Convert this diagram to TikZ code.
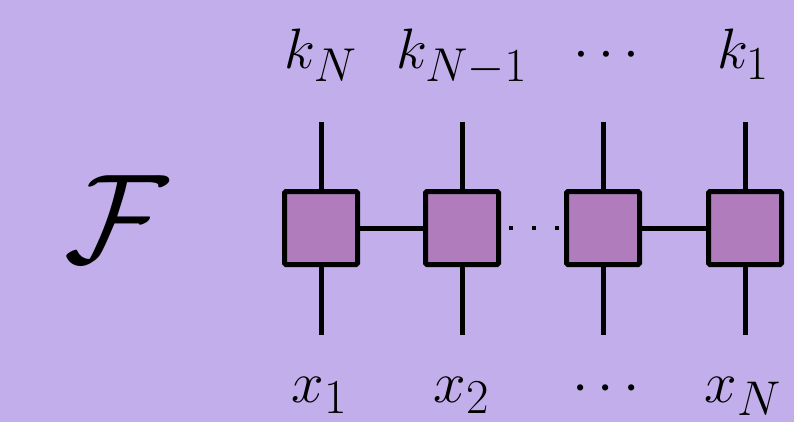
\documentclass[tikz,border=0pt]{standalone}
\usepackage{amsmath}
\usepackage{graphicx}
\definecolor{bgc}{HTML}{C1AEEA}
\definecolor{boxc}{HTML}{B07CBB}
\newcommand{\biglab}[2]{\scalebox{#1}{\fontsize{24.88}{30}\selectfont #2}}
\begin{document}
\begin{tikzpicture}[x=1pt,y=-1pt,
  tbox/.style={draw=black,fill=boxc,line width=5pt,minimum size=73pt,inner sep=0pt,rounded corners=1.5pt},
  leg/.style={line width=5pt},
  lab/.style={anchor=base,inner sep=0pt}]
\fill[bgc] (0,0) rectangle (794,422);
\useasboundingbox (0,0) rectangle (794,422);
\node[inner sep=0pt] (F) at (116,219) {\biglab{5.1}{$\mathcal{F}$}};
\foreach \i/\x in {1/321,2/462,3/603,4/745}{
  \node[tbox] (b\i) at (\x,228) {};
  \coordinate (t\i) at (\x,122);
  \coordinate (u\i) at (\x,335);
  \draw[leg] (b\i.north) -- (t\i);
  \draw[leg] (b\i.south) -- (u\i);
}
\draw[leg] (b1.east) -- (b2.west);
\draw[leg] (b3.east) -- (b4.west);
\foreach \dx in {511,534,557}{
  \fill[black] (\dx-2.4,228-2.4) rectangle (\dx+2.4,228+2.4);
}
\node[lab] (k1) at (321,69) {\biglab{2.29}{$k_N$}};
\node[lab] (k2) at (462,69) {\biglab{2.29}{$k_{N-1}$}};
\node[lab] (k3) at (611,69) {\biglab{2.29}{$\cdots$}};
\node[lab] (k4) at (743,69) {\biglab{2.29}{$k_1$}};
\node[lab] (x1) at (320,402) {\biglab{2.35}{$x_1$}};
\node[lab] (x2) at (462,402) {\biglab{2.35}{$x_2$}};
\node[lab] (x3) at (611,402) {\biglab{2.35}{$\cdots$}};
\node[lab] (x4) at (743,402) {\biglab{2.35}{$x_N$}};
\end{tikzpicture}
\end{document}
